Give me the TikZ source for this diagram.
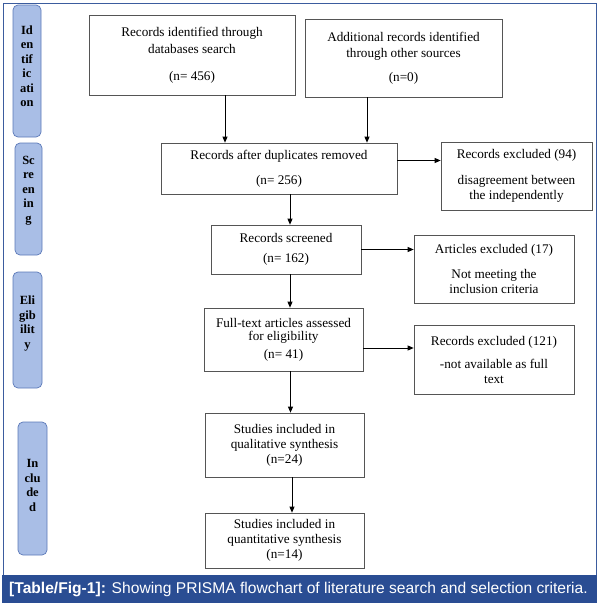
\documentclass[tikz,border=0pt]{standalone}
\usepackage{fontspec}
\setmainfont{Liberation Serif}
\setsansfont{Liberation Sans}
\usetikzlibrary{arrows.meta, positioning, calc}
\definecolor{cFrame}{HTML}{3B5C9E}
\definecolor{cBar}{HTML}{2A4D93}
\definecolor{cStage}{HTML}{A9BEE6}
\definecolor{cStageLine}{HTML}{5B79B8}
\definecolor{cLine}{HTML}{555555}

\begin{document}
\begin{tikzpicture}[x=1pt, y=-1pt,
  flowbox/.style 2 args={draw=cLine, line width=0.7pt, align=center,
    inner sep=2pt, font=\fontsize{13.2}{15}\selectfont,
    minimum width=#1pt, minimum height=#2pt},
  stage/.style 2 args={draw=cStageLine, fill=cStage, rounded corners=5pt,
    line width=0.7pt, align=center, inner sep=0pt,
    font=\fontsize{12.5}{14.5}\selectfont\bfseries,
    minimum width=#1pt, minimum height=#2pt},
  arr/.style={-{Triangle[length=6pt, width=5pt]}, line width=0.8pt}
]
  \useasboundingbox (0,0) rectangle (599,608);

  % frame and caption
  \draw[cFrame, line width=1pt] (3,3) rectangle (596,575);
  \node[fill=cBar, minimum width=595pt, minimum height=28pt, inner sep=0pt] (bar) at (299.5,589) {};
  \node[text=white, font=\sffamily\fontsize{15.6}{18}\selectfont, anchor=west, inner sep=0pt] (cap) at (9,589)
    {\textbf{[Table/Fig-1]:} Showing PRISMA flowchart of literature search and selection criteria.};

  % stages
  \node[stage={28}{132}] (sIdent) at (27,71) {Id\\en\\tif\\ic\\ati\\on\\[-4.5pt]\mbox{}};
  \node[stage={27}{112}] (sScreen) at (28.5,199) {Sc\\re\\en\\in\\g\\[5.5pt]\mbox{}};
  \node[stage={29}{116}] (sElig) at (27.5,330) {Eli\\gib\\ilit\\y\\[1.5pt]\mbox{}};
  \node[stage={29}{133}] (sIncl) at (32.5,488.5) {In\\clu\\de\\d\\[-8.5pt]\mbox{}};

  % main column
  \node[flowbox={206}{80}] (dbs) at (192,55) {Records identified through\\[2pt]databases search\\[12pt](n= 456)};
  \node[flowbox={197}{78}] (other) at (403.5,58) {Additional records identified\\[1pt]through other sources\\[9pt](n=0)};
  \node[flowbox={236}{51}] (dup) at (279,168.5) {Records after duplicates removed\\[10pt](n= 256)};
  \node[flowbox={150}{49}] (screened) at (286,249.5) {Records screened\\[5pt](n= 162)};
  \node[flowbox={159}{63}] (fulltext) at (283.5,339.5) {Full-text articles assessed\\[-2pt]for eligibility\\[3pt](n= 41)};
  \node[flowbox={159}{64}] (qual) at (284.5,445) {Studies included in\\qualitative synthesis\\(n=24)};
  \node[flowbox={159}{55}] (quant) at (284.5,540.5) {Studies included in\\quantitative synthesis\\(n=14)};

  % exclusions
  \node[flowbox={151}{68}] (excl1) at (516.5,176) {Records excluded (94)\\[11pt]disagreement between\\the independently};
  \node[flowbox={160}{68}] (excl2) at (494,269) {Articles excluded (17)\\[10pt]Not meeting the\\inclusion criteria};
  \node[flowbox={160}{69}] (excl3) at (494,359.5) {Records excluded (121)\\[8pt]-not available as full\\text};

  % connectors
  \coordinate (c1) at ([xshift=33pt]dbs.south);
  \coordinate (c2) at ([xshift=-36.5pt]other.south);
  \coordinate (c3) at ([xshift=4pt]screened.north);
  \coordinate (c4) at ([xshift=7pt]fulltext.south);
  \coordinate (c5) at ([xshift=7.5pt]qual.south);
  \draw[arr] (c1) -- (c1 |- dup.north);
  \draw[arr] (c2) -- (c2 |- dup.north);
  \draw[arr] (dup.south -| c3) -- (c3);
  \draw[arr] (screened.south -| c3) -- (fulltext.north -| c3);
  \draw[arr] (c4) -- (c4 |- qual.north);
  \draw[arr] (c5) -- (c5 |- quant.north);

  \coordinate (h1) at ([yshift=8pt]dup.east);
  \coordinate (h3) at ([yshift=-8.5pt]fulltext.east);
  \draw[arr] (h1) -- (h1 -| excl1.west);
  \draw[arr] (screened.east) -- (screened.east -| excl2.west);
  \draw[arr] (h3) -- (h3 -| excl3.west);
\end{tikzpicture}
\end{document}
